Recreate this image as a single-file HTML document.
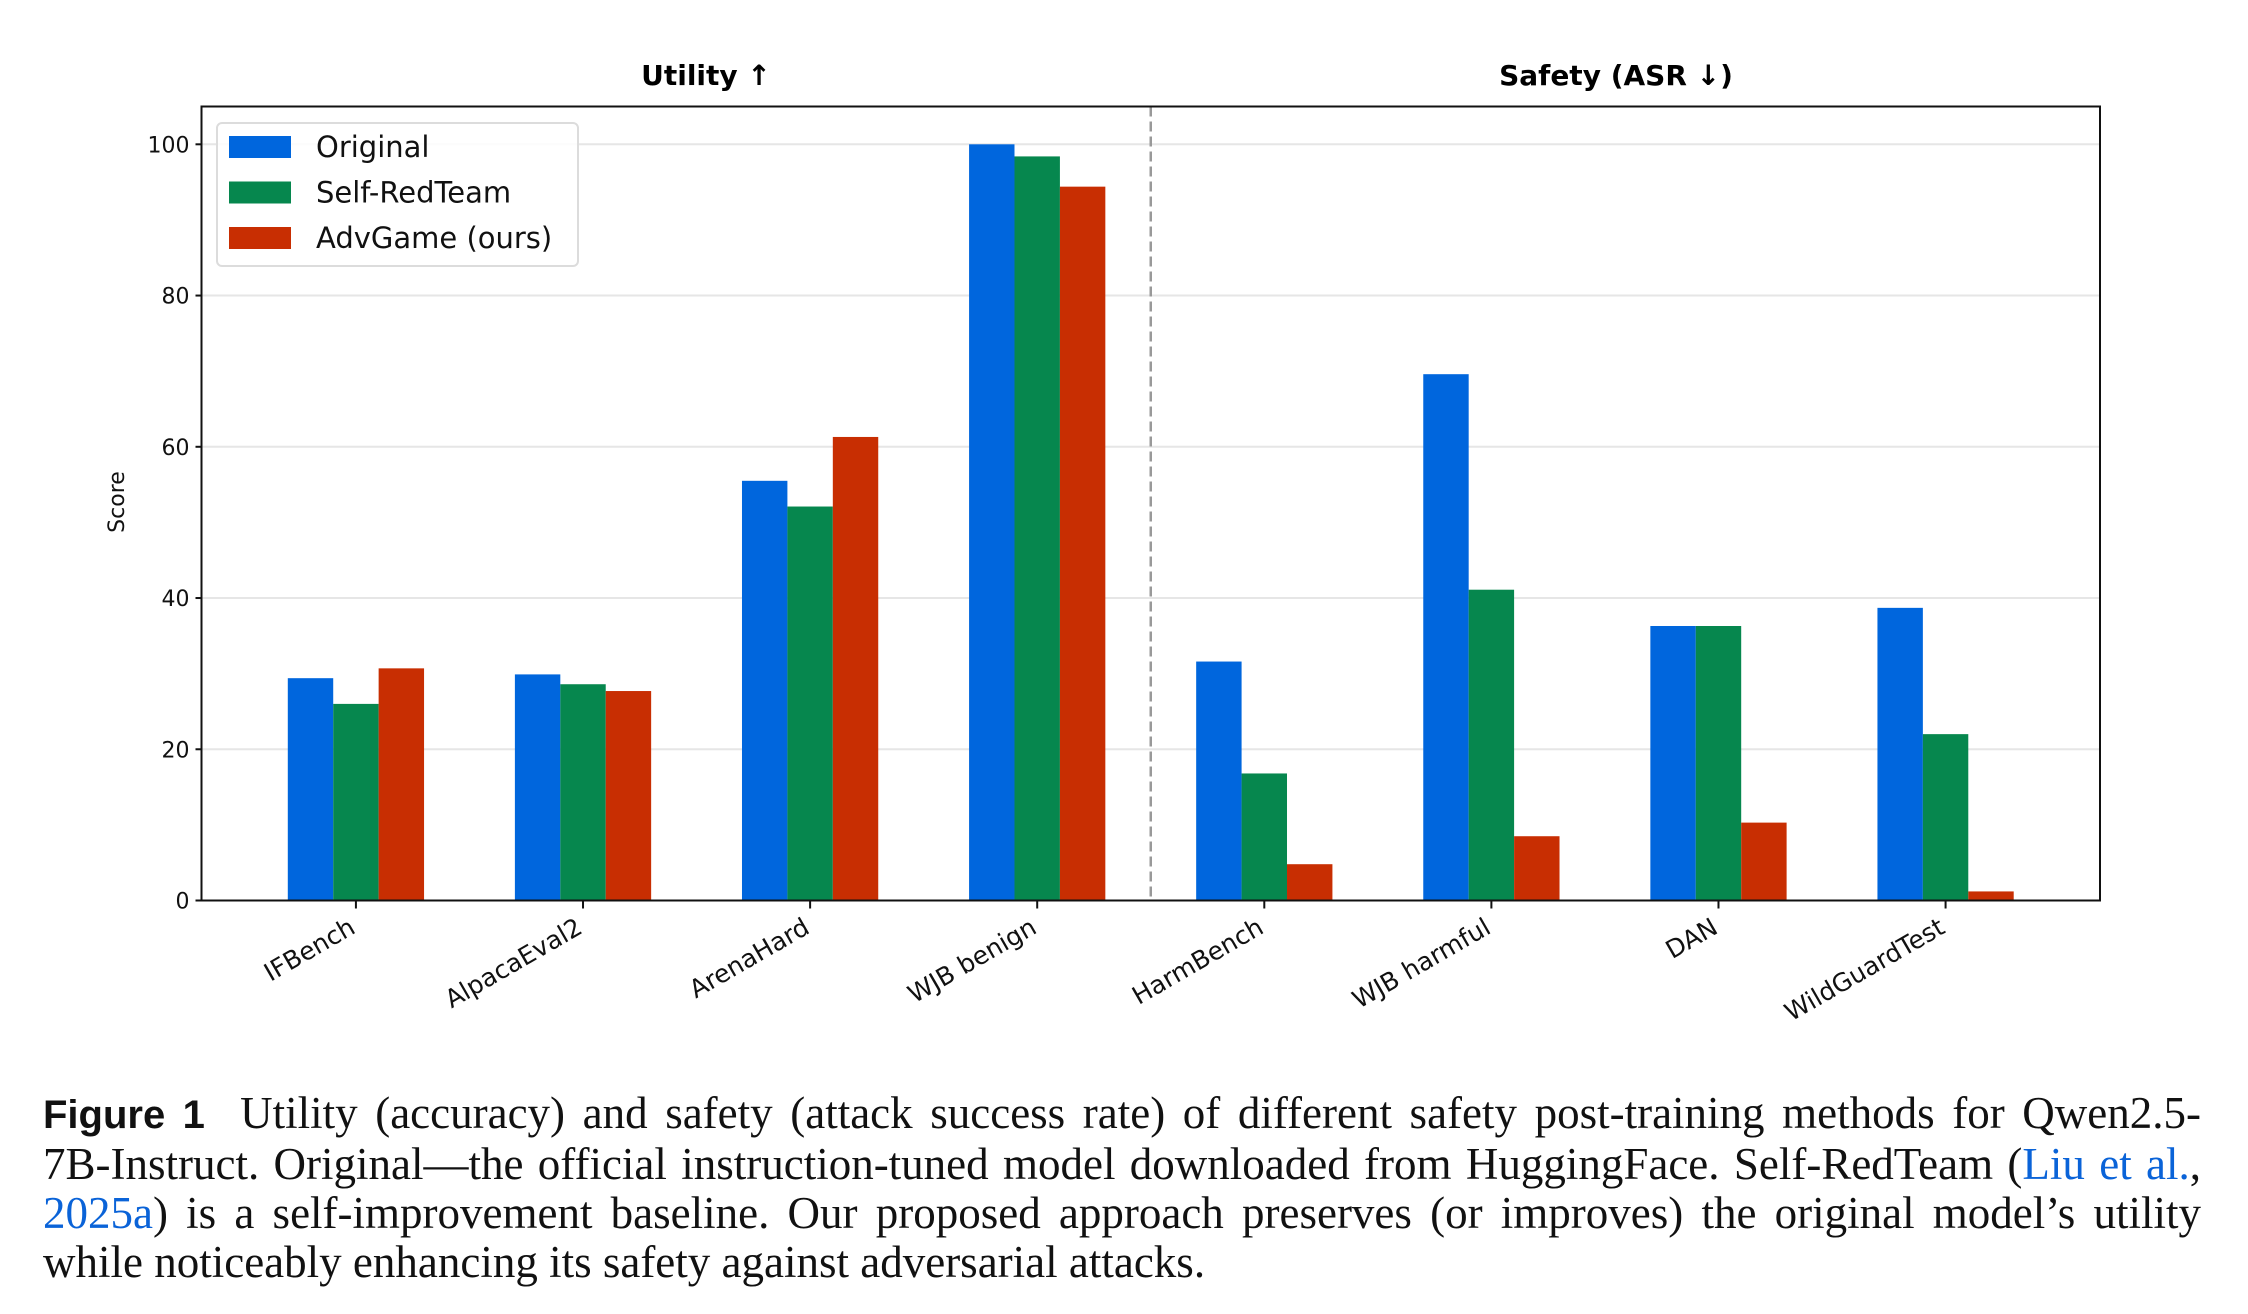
<!DOCTYPE html>
<html><head><meta charset="utf-8"><style>
html,body{margin:0;padding:0;background:#fff;}
body{width:2248px;height:1314px;position:relative;overflow:hidden;}
#chart{position:absolute;left:0;top:0;}
#caption{position:absolute;left:43px;top:1089px;width:2158px;font-family:"Liberation Serif",serif;font-size:45px;line-height:49px;color:#111;}
#caption .ln{text-align:justify;text-align-last:justify;white-space:nowrap;}
#caption .last{text-align:left;text-align-last:left;}
#caption b{font-family:"Liberation Sans",sans-serif;font-weight:bold;font-size:40px;}
#caption a{color:#0a63d8;text-decoration:none;}
</style></head><body>
<svg id="chart" width="2248" height="1060" xmlns="http://www.w3.org/2000/svg" font-family="DejaVu Sans, Liberation Sans, sans-serif"></svg>
<div id="caption">
<div class="ln"><b>Figure 1</b>&nbsp; Utility (accuracy) and safety (attack success rate) of different safety post-training methods for Qwen2.5-</div>
<div class="ln">7B-Instruct. Original—the official instruction-tuned model downloaded from HuggingFace. Self-RedTeam (<a>Liu et al.</a>,</div>
<div class="ln"><a>2025a</a>) is a self-improvement baseline. Our proposed approach preserves (or improves) the original model’s utility</div>
<div class="ln last">while noticeably enhancing its safety against adversarial attacks.</div>
</div>
<script>
const categories = ["IFBench","AlpacaEval2","ArenaHard","WJB benign","HarmBench","WJB harmful","DAN","WildGuardTest"];
const seriesNames = ["Original","Self-RedTeam","AdvGame (ours)"];
const original = [29.4,29.9,55.5,100,31.6,69.6,36.3,38.7];
const selfRedTeam = [26.0,28.6,52.1,98.4,16.8,41.1,36.3,22.0];
const advGame = [30.7,27.7,61.3,94.4,4.8,8.5,10.3,1.2];
const yTicks = [0,20,40,60,80,100];

const NS="http://www.w3.org/2000/svg";
const svg=document.getElementById('chart');
const L=201.5,R=2100,T=106.5,B=900.5;
const xMin=-0.68,xMax=7.68,yMax=105;
const xs=v=>L+(v-xMin)/(xMax-xMin)*(R-L);
const ys=v=>B-v/yMax*(B-T);
function mk(tag,attrs,parent){const e=document.createElementNS(NS,tag);for(const k in attrs)e.setAttribute(k,attrs[k]);(parent||svg).appendChild(e);return e;}

yTicks.forEach(t=>{
  const g=mk('line',{x1:L,x2:R,y1:ys(t),y2:ys(t),stroke:'#e6e6e6','stroke-width':2});
  
  
});
const series=[original,selfRedTeam,advGame];
const colors=['#0066dd','#06874e','#c82e02'];
const bw=0.2;
series.forEach((s,si)=>{
  s.forEach((v,i)=>{
    const x0=xs(i+(si-1)*bw-bw/2),x1=xs(i+(si-1)*bw+bw/2);
    const r=mk('rect',{x:x0,y:ys(v),width:x1-x0,height:ys(0)-ys(v),fill:colors[si]});
    
    
  });
});
const dv=mk('line',{x1:xs(3.5),x2:xs(3.5),y1:T,y2:B,stroke:'#999','stroke-width':2.5,'stroke-dasharray':'10,5'});


const fr=mk('rect',{x:L,y:T,width:R-L,height:B-T,fill:'none',stroke:'#111','stroke-width':2});


yTicks.forEach(t=>{
  mk('line',{x1:L-6,x2:L,y1:ys(t),y2:ys(t),stroke:'#111','stroke-width':2});
  const tx=mk('text',{x:L-12,y:ys(t)+8,'text-anchor':'end','font-size':22,fill:'#111'});
  tx.textContent=t;
  
  
});
categories.forEach((c,i)=>{
  const x=xs(i);
  mk('line',{x1:x,x2:x,y1:B,y2:B+8,stroke:'#111','stroke-width':2});
  const ax=x-8, ay=B+16;
  const tx=mk('text',{x:ax,y:ay+18,'text-anchor':'end','font-size':25,fill:'#111',transform:`rotate(-30 ${ax} ${ay})`});
  tx.textContent=c;
  
  
});
const yt=mk('text',{x:124,y:502,'text-anchor':'middle','font-size':22,fill:'#111',transform:'rotate(-90 124 502)'});
yt.textContent='Score';


const t1=mk('text',{x:706,y:85,'text-anchor':'middle','font-size':28,'font-weight':'bold',fill:'#000'});
t1.textContent='Utility ↑';


const t2=mk('text',{x:1616,y:85,'text-anchor':'middle','font-size':28,'font-weight':'bold',fill:'#000'});
t2.textContent='Safety (ASR ↓)';


const lg=mk('g',{});


mk('rect',{x:217,y:123,width:361,height:143,rx:5,fill:'#fff','fill-opacity':0.85,stroke:'#dcdcdc','stroke-width':2},lg);
seriesNames.forEach((n,si)=>{
  const cy=147+si*45.5;
  const e=mk('g',{},lg);
  
  
  mk('rect',{x:229,y:cy-11,width:62,height:22,fill:colors[si]},e);
  const tx=mk('text',{x:316,y:cy+10,'font-size':29,fill:'#111'},e);
  tx.textContent=n;
});
</script>
</body></html>
